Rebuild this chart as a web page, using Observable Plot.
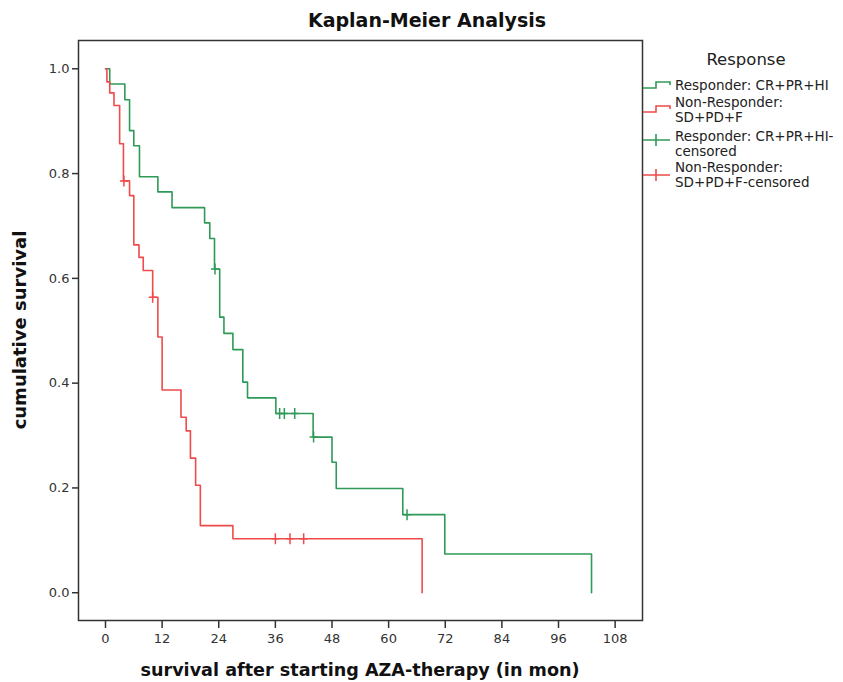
<!DOCTYPE html>
<html>
<head>
<meta charset="utf-8">
<script src="https://cdn.jsdelivr.net/npm/d3@7"></script>
<script src="https://cdn.jsdelivr.net/npm/@observablehq/plot@0.6"></script>
<style>
  body { margin: 0; background: #fff; }
  #wrap { position: relative; width: 843px; height: 682px; overflow: hidden; font-family: "DejaVu Sans", sans-serif; background: #fff; }
  #wrap svg.chart { position: absolute; left: 0; top: 0; }
  .lbl { position: absolute; font-weight: bold; color: #111; white-space: nowrap; line-height: 1; }
  #title { left: 0; width: 854px; top: 11px; text-align: center; font-size: 19px; }
  #xlabel { left: 0; width: 720px; top: 662px; text-align: center; font-size: 17.6px; }
  #ylabel { left: 20px; top: 330px; font-size: 18px; transform: translate(-50%, -50%) rotate(-90deg); }
  #legend { position: absolute; left: 636px; top: 40px; }
</style>
</head>
<body>
<div id="wrap">
  <div id="title" class="lbl">Kaplan-Meier Analysis</div>
  <div id="xlabel" class="lbl">survival after starting AZA-therapy (in mon)</div>
  <div id="ylabel" class="lbl">cumulative survival</div>
  <svg id="legend" width="207" height="170"></svg>
</div>
<script>
// ---------- data ----------
const xTicks = [0, 12, 24, 36, 48, 60, 72, 84, 96, 108];
const yTicks = [0, 0.2, 0.4, 0.6, 0.8, 1.0];
const seriesNames = ["Responder: CR+PR+HI", "Non-Responder: SD+PD+F"];
const legendTitle = "Response";
const legendLabels = [
  ["Responder: CR+PR+HI"],
  ["Non-Responder:", "SD+PD+F"],
  ["Responder: CR+PR+HI-", "censored"],
  ["Non-Responder:", "SD+PD+F-censored"]
];
const seriesColors = ["#2f9a57", "#f04a4a"];

// Responder: event times (months) and Kaplan-Meier survival after each step
const respTimes = [0, 0.9, 4.1, 5.1, 6.0, 7.2, 11.1, 14.1, 21.0, 22.1, 23.1, 24.2, 25.1, 27.0, 29.1, 30.1, 36.1, 44.0, 48.0, 48.9, 63.0, 71.9, 103.0];
const respSurv  = [1.0, 0.971, 0.941, 0.882, 0.853, 0.794, 0.765, 0.735, 0.706, 0.676, 0.618, 0.526, 0.495, 0.464, 0.402, 0.372, 0.342, 0.297, 0.249, 0.199, 0.149, 0.074, 0.0];
const respCensored = [23.2, 36.9, 37.9, 40.1, 44.1, 63.9];

// Non-Responder
const nonTimes = [0, 0.3, 0.9, 1.8, 3.0, 3.8, 5.1, 6.0, 7.1, 8.0, 10.0, 11.1, 12.0, 16.0, 17.1, 18.0, 19.1, 20.1, 27.0, 67.1];
const nonSurv  = [1.0, 0.975, 0.954, 0.930, 0.857, 0.786, 0.758, 0.664, 0.640, 0.615, 0.564, 0.488, 0.387, 0.335, 0.309, 0.257, 0.205, 0.128, 0.103, 0.0];
const nonCensored = [3.9, 10.0, 36.0, 39.1, 42.0];

// ---------- build tables ----------
function stepTable(times, surv, name) {
  return times.map((t, i) => ({t, s: surv[i], group: name}));
}
function survAt(times, surv, t) {
  let v = surv[0];
  for (let i = 0; i < times.length; i++) if (times[i] <= t) v = surv[i];
  return v;
}
const curves = [
  ...stepTable(respTimes, respSurv, seriesNames[0]),
  ...stepTable(nonTimes, nonSurv, seriesNames[1])
];
const censors = [
  ...respCensored.map(t => ({t, s: survAt(respTimes, respSurv, t), group: seriesNames[0]})),
  ...nonCensored.map(t => ({t, s: survAt(nonTimes, nonSurv, t), group: seriesNames[1]}))
];

const crossSymbol = {
  draw(ctx, size) {
    const r = Math.sqrt(size / Math.PI);
    ctx.moveTo(0, -r * 1.1); ctx.lineTo(0, r * 1.1);
    ctx.moveTo(-r * 0.8, 0); ctx.lineTo(r * 0.8, 0);
  }
};

const color = {domain: seriesNames, range: seriesColors};

const chart = Plot.plot({
  width: 843,
  height: 682,
  marginLeft: 78,
  marginRight: 201,
  marginTop: 40,
  marginBottom: 62,
  x: {domain: [-5.72, 113.8]},
  y: {domain: [-0.053, 1.054]},
  color,
  style: {fontFamily: "DejaVu Sans, sans-serif", background: "transparent", overflow: "visible"},
  marks: [
    Plot.axisX({ticks: xTicks, tickSize: 8, tickPadding: 5, tickFormat: d => String(d), fontSize: 13, label: null, color: "#333", strokeWidth: 1.5}),
    Plot.axisY({ticks: yTicks, tickSize: 6, tickPadding: 3, tickFormat: d3.format(".1f"), fontSize: 13, label: null, color: "#333", strokeWidth: 1.5}),
    Plot.line(curves, {x: "t", y: "s", z: "group", stroke: "group", curve: "step-after", strokeWidth: 1.6}),
    Plot.dot(censors, {x: "t", y: "s", stroke: "group", symbol: crossSymbol, r: 5, fill: "none", strokeWidth: 1.5}),
    Plot.frame({stroke: "#333", strokeWidth: 1.5})
  ]
});
chart.classList.add("chart");
document.getElementById("wrap").prepend(chart);

// ---------- legend ----------
const lg = d3.select("#legend");
lg.append("text").attr("x", 110).attr("y", 20).attr("text-anchor", "middle")
  .attr("dominant-baseline", "middle").attr("font-family", "DejaVu Sans, sans-serif")
  .attr("font-size", 16.5).attr("fill", "#222").text(legendTitle);

const entryY = [46, 63, 97, 128];       // first-line centres (relative)
const symbolY = [45, 69, 100, 135];      // symbol positions
legendLabels.forEach((lines, i) => {
  const c = seriesColors[i % 2];
  const y = symbolY[i];
  if (i < 2) {
    lg.append("path").attr("d", `M7,${y + 3}H20V${y - 3}H34V${y}`)
      .attr("fill", "none").attr("stroke", c).attr("stroke-width", 1.6);
  } else {
    lg.append("path").attr("d", `M7,${y}H34M20,${y - 6}V${y + 6}`)
      .attr("fill", "none").attr("stroke", c).attr("stroke-width", 1.6);
  }
  lines.forEach((ln, j) => {
    lg.append("text").attr("x", 39).attr("y", entryY[i] + j * 15)
      .attr("dominant-baseline", "middle").attr("font-family", "DejaVu Sans, sans-serif")
      .attr("font-size", 13.5).attr("fill", "#222").text(ln);
  });
});
</script>
</body>
</html>
